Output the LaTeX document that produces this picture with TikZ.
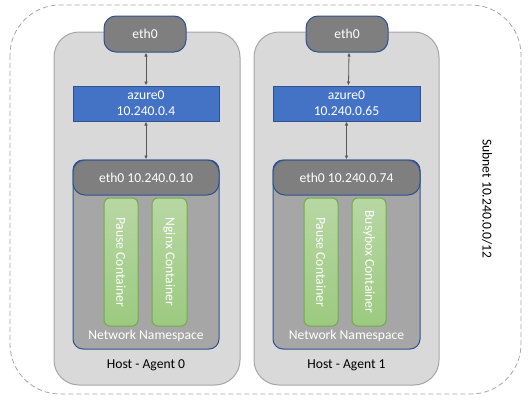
\documentclass[tikz,border=0pt]{standalone}
\usepackage{fontspec}
\setmainfont{Carlito}
\usetikzlibrary{arrows.meta}
\definecolor{hostfill}{HTML}{D9D9D9}
\definecolor{hostline}{HTML}{A6A6A6}
\definecolor{ethfill}{HTML}{7F7F7F}
\definecolor{blueline}{HTML}{2F528F}
\definecolor{azfill}{HTML}{4472C4}
\definecolor{nsfill}{HTML}{A6A6A6}
\definecolor{gtop}{HTML}{B7D7A3}
\definecolor{gbot}{HTML}{9CCA80}
\definecolor{gline}{HTML}{70AD47}
\definecolor{arr}{HTML}{595959}
\definecolor{outline}{HTML}{A6A6A6}
\begin{document}
\begin{tikzpicture}[x=1pt,y=-1pt,
  every node/.style={font=\fontsize{13.6}{16}\selectfont, inner sep=0pt},
  outerbox/.style={draw=outline, dash pattern=on 5pt off 3pt, line width=0.8pt, rounded corners=50pt},
  hostbox/.style={draw=hostline, fill=hostfill, line width=1pt, rounded corners=25pt, minimum width=186pt, minimum height=353pt},
  ethbox/.style={draw=blueline, fill=ethfill, line width=1pt, rounded corners=12pt, minimum width=82pt, minimum height=36pt, text=white},
  azbox/.style={draw=blueline, fill=azfill, line width=1pt, minimum height=35pt, text=white, align=center},
  nsbox/.style={draw=blueline, fill=nsfill, line width=1pt, rounded corners=10pt, minimum height=189pt},
  hdrbox/.style={draw=blueline, fill=ethfill, line width=1pt, rounded corners=12pt, minimum height=35pt, text=white},
  ctrbox/.style={draw=gline, top color=gtop, bottom color=gbot, line width=1pt, rounded corners=6pt, minimum width=34pt, minimum height=128pt},
  ctrtext/.style={text=white, rotate=-90},
  link/.style={draw=arr, line width=0.8pt, {Latex[length=4pt,width=3.5pt]}-{Latex[length=4pt,width=3.5pt]}}
]
\useasboundingbox (0,0) rectangle (531,402);
\draw[outerbox] (10,5) rectangle (521,394);

% Host 0
\node[hostbox] (host0) at (147,208.5) {};
\node[ethbox] (eth0a) at (145,34) {eth0};
\node[azbox, minimum width=146pt] (az0) at (146,103.5) {azure0\\10.240.0.4};
\node[nsbox, minimum width=146pt] (ns0) at (146,254.5) {};
\node[hdrbox, minimum width=146pt] (hdr0) at (146,177.5) {eth0 10.240.0.10};
\node[ctrbox] (pause0) at (121,262) {};
\node[ctrbox, minimum width=35pt] (nginx0) at (169.5,262) {};
\node[ctrtext] (pause0t) at (pause0.center) {Pause Container};
\node[ctrtext] (nginx0t) at (nginx0.center) {Nginx Container};
\node[text=white] (ns0t) at (146,336) {Network Namespace};
\node (host0t) at (146,365) {Host - Agent 0};
\path[link] (eth0a.south -| az0.north) -- (az0.north);
\path[link] (az0.south) -- (hdr0.north);

% Host 1
\node[hostbox, minimum width=185pt] (host1) at (346.5,208.5) {};
\node[ethbox] (eth0b) at (347,34) {eth0};
\node[azbox, minimum width=147pt] (az1) at (346.5,103.5) {azure0\\10.240.0.65};
\node[nsbox, minimum width=147pt] (ns1) at (346.5,254.5) {};
\node[hdrbox, minimum width=147pt] (hdr1) at (346.5,177.5) {eth0 10.240.0.74};
\node[ctrbox] (pause1) at (321,262) {};
\node[ctrbox] (busy1) at (369,262) {};
\node[ctrtext] (pause1t) at (pause1.center) {Pause Container};
\node[ctrtext] (busy1t) at (busy1.center) {Busybox Container};
\node[text=white] (ns1t) at (346.5,336) {Network Namespace};
\node (host1t) at (346.5,365) {Host - Agent 1};
\path[link] ([xshift=2pt]eth0b.south) -- ([xshift=2pt]az1.north);
\path[link] (az1.south) -- (hdr1.north);

% Subnet label
\node[rotate=-90] (subnet) at (487,199) {Subnet 10.240.0.0/12};
\end{tikzpicture}
\end{document}
